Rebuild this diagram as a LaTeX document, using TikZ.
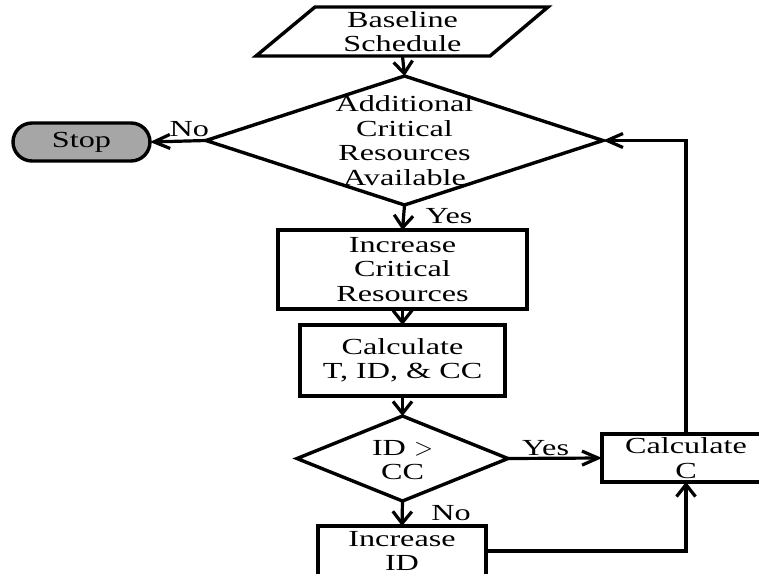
\documentclass[tikz,border=0pt]{standalone}
\usepackage{fontspec}
\setmainfont{Liberation Serif}[FakeStretch=1.4]
\usetikzlibrary{shapes.geometric,arrows.meta}
\definecolor{stopgray}{HTML}{A6A6A6}
\begin{document}
\begin{tikzpicture}[x=1pt,y=-1pt,
  every node/.style={font=\fontsize{23}{24.5}\selectfont, align=center, inner sep=0pt, outer sep=0pt},
  box/.style={draw, rectangle, line width=3.4pt},
  decision/.style={draw, diamond, line width=3.4pt},
  terminal/.style={draw, rectangle, rounded corners=19pt, line width=3.4pt, fill=stopgray},
  conn/.style={line width=3.2pt},
  arrv/.style={-{Straight Barb[length=12pt,width=19pt]}},
  arrh/.style={-{Straight Barb[length=16pt,width=14pt]}},
  lbl/.style={font=\fontsize{23}{24.5}\selectfont}
]
\clip (0,0) rectangle (759,573);

% input: baseline schedule (parallelogram)
\draw[line width=3.4pt, line join=miter] (315,7) -- (548,7) -- (490,56) -- (256,56) -- cycle;
\node[minimum width=175, minimum height=49] (base) at (402.5,31.5) {Baseline\\Schedule};

% first decision
\node[decision, minimum width=397, minimum height=129] (d1) at (404.5,140.5) {};
\node (d1t) at (d1.center) {Additional\\Critical\\Resources\\Available};

% stop terminal
\node[terminal, minimum width=137, minimum height=38] (stop) at (81.5,142) {Stop};

% process boxes
\node[box, minimum width=249, minimum height=79] (icr) at (402.5,269.5) {Increase\\Critical\\Resources};
\node[box, minimum width=205, minimum height=71] (calc) at (402.5,360.5) {Calculate\\T, ID, \& CC};

% second decision
\node[decision, minimum width=211, minimum height=85] (d2) at (402.5,458.5) {};
\node (d2t) at (402.5,460) {ID $>$\\CC};

\node[box, minimum width=168, minimum height=48] (cc) at (686,458) {Calculate\\C};
\node[box, minimum width=168, minimum height=50] (iid) at (402,551) {Increase\\ID};

% connectors
\draw[conn, arrv] (base.south) -- (d1.north);
\draw[conn, arrh] (d1.west) -- (stop.east)
  node[lbl, pos=0.3, above=4pt] {No};
\draw[conn, arrv] (d1.south) -- (icr.north)
  node[lbl, pos=0.45, right=22pt] {Yes};
\draw[conn, arrv] (icr.south) -- (calc.north);
\draw[conn, arrv] (calc.south) -- (d2.north);
\draw[conn, arrh] (d2.east) -- (cc.west)
  node[lbl, pos=0.4, above=3pt] {Yes};
\draw[conn, arrv] (d2.south) -- (iid.north)
  node[lbl, pos=0.5, right=29pt] {No};
\draw[conn, arrv] (iid.east) -| (cc.south);
\draw[conn, arrh] (cc.north) |- (d1.east);
\end{tikzpicture}
\end{document}
